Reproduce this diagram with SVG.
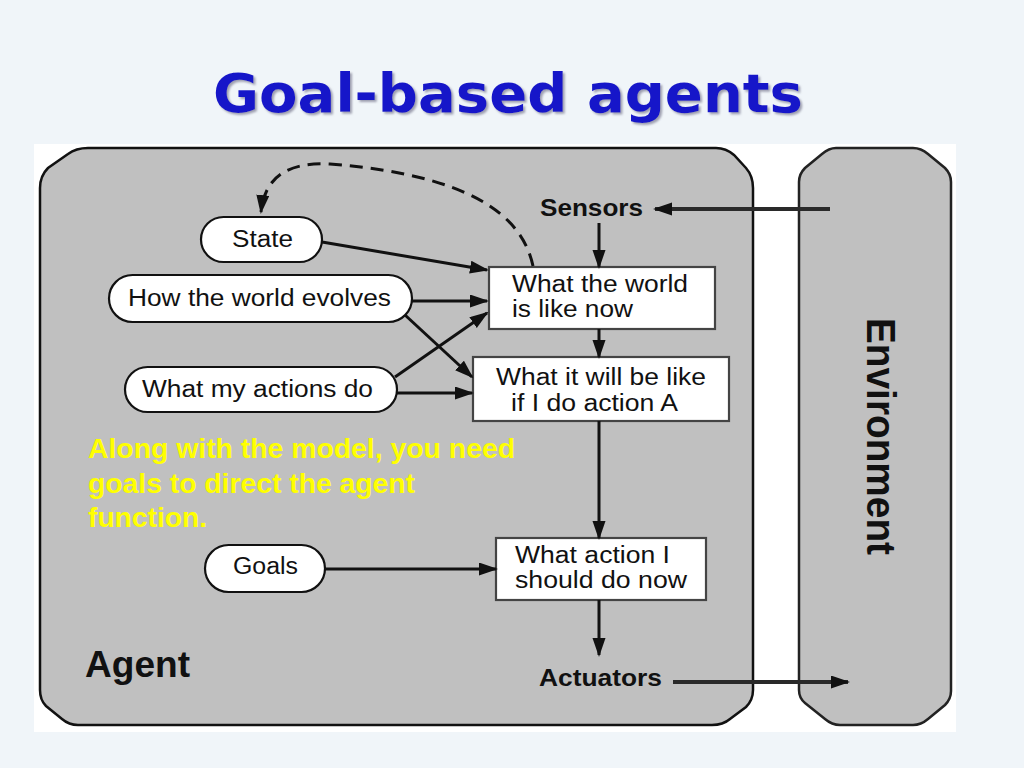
<svg xmlns="http://www.w3.org/2000/svg" width="1024" height="768" viewBox="0 0 1024 768">
<style>
.pill{fill:#fff;stroke:#111;stroke-width:2.2}
.box{fill:#fff;stroke:#444;stroke-width:2.2}
.t{font-family:"Liberation Sans",Arial,sans-serif;font-size:23px;fill:#111}
.b{font-family:"Liberation Sans",Arial,sans-serif;font-weight:bold;fill:#111}
.y{font-family:"Liberation Sans",Arial,sans-serif;font-weight:bold;font-size:28px;fill:#ffff00}
.ln{fill:none;stroke:#111;stroke-width:3;marker-end:url(#ah)}
.ln2{fill:none;stroke:#2a2a2a;stroke-width:4;marker-end:url(#ah)}
</style>
<defs>
<marker id="ah" markerUnits="userSpaceOnUse" markerWidth="20" markerHeight="14" refX="17" refY="6.5" orient="auto">
<path d="M0,0 L19,6.5 L0,13 z" fill="#111"/>
</marker>
<filter id="sh" x="-5%" y="-20%" width="110%" height="150%">
<feDropShadow dx="2" dy="2" stdDeviation="1" flood-color="#7a7a90" flood-opacity="0.7"/>
</filter>
</defs>
<rect width="1024" height="768" fill="#f0f5f9"/>
<text x="508" y="112" text-anchor="middle" font-family="'DejaVu Sans',Verdana,sans-serif" font-weight="bold" font-size="54" fill="#1717c9" textLength="590" lengthAdjust="spacingAndGlyphs" filter="url(#sh)">Goal-based agents</text>
<rect x="34" y="144" width="922" height="588" fill="#fff"/>

<g id="agent">
<path d="M88,148 L716,148 Q726,148 734,155 L746,168 Q753,176 753,188 L753,690 Q753,700 746,707 L730,719 Q723,725 712,725 L78,725 Q69,725 62,719 L46,706 Q40,700 40,690 L40,188 Q40,176 48,168 L68,154 Q76,148 88,148 Z" fill="#c0c0c0" stroke="#111" stroke-width="2.5"/>
<text class="b" x="85" y="677" font-size="37" textLength="105" lengthAdjust="spacingAndGlyphs">Agent</text>
</g>
<g id="environment">
<path d="M836,148 L913,148 Q921,148 928,154 L945,168 Q951,174 951,182 L951,691 Q951,699 945,705 L928,719 Q921,725 913,725 L840,725 Q832,725 825,719 L805,703 Q799,698 799,690 L799,182 Q799,174 805,168 L822,154 Q829,148 836,148 Z" fill="#c0c0c0" stroke="#222" stroke-width="2.5"/>
<text class="b" transform="translate(867,318) rotate(90)" x="0" y="0" font-size="40" textLength="237" lengthAdjust="spacingAndGlyphs">Environment</text>
</g>

<g id="sensors"><text class="b" x="540" y="216" font-size="24" textLength="103" lengthAdjust="spacingAndGlyphs">Sensors</text></g>
<g id="actuators"><text class="b" x="539" y="686" font-size="24" textLength="123" lengthAdjust="spacingAndGlyphs">Actuators</text></g>

<g id="world-now">
<rect class="box" x="489" y="267" width="226" height="62"/>
<text class="t" x="512" y="292" textLength="176" lengthAdjust="spacingAndGlyphs">What the world</text>
<text class="t" x="512" y="317" textLength="121" lengthAdjust="spacingAndGlyphs">is like now</text>
</g>
<g id="will-be">
<rect class="box" x="473" y="357" width="256" height="64"/>
<text class="t" x="496" y="385" textLength="210" lengthAdjust="spacingAndGlyphs">What it will be like</text>
<text class="t" x="511" y="411" textLength="167" lengthAdjust="spacingAndGlyphs">if I do action A</text>
</g>
<g id="action-now">
<rect class="box" x="496" y="538" width="210" height="62"/>
<text class="t" x="515" y="563" textLength="155" lengthAdjust="spacingAndGlyphs">What action I</text>
<text class="t" x="515" y="588" textLength="172" lengthAdjust="spacingAndGlyphs">should do now</text>
</g>

<g id="state">
<rect class="pill" x="201" y="217" width="121" height="45" rx="22.5"/>
<text class="t" x="232" y="247" font-size="24" textLength="61" lengthAdjust="spacingAndGlyphs">State</text>
</g>
<g id="evolves">
<rect class="pill" x="109" y="275" width="303" height="47" rx="23.5"/>
<text class="t" x="128" y="306" font-size="24" textLength="263" lengthAdjust="spacingAndGlyphs">How the world evolves</text>
</g>
<g id="actions-do">
<rect class="pill" x="125" y="367" width="272" height="45" rx="22.5"/>
<text class="t" x="142" y="397" font-size="24" textLength="231" lengthAdjust="spacingAndGlyphs">What my actions do</text>
</g>
<g id="goals">
<rect class="pill" x="205" y="545" width="120" height="47" rx="23.5"/>
<text class="t" x="233" y="574" font-size="24" textLength="65" lengthAdjust="spacingAndGlyphs">Goals</text>
</g>

<g id="note">
<text class="y" x="88" y="458" textLength="427" lengthAdjust="spacingAndGlyphs">Along with the model, you need</text>
<text class="y" x="88" y="493" textLength="327" lengthAdjust="spacingAndGlyphs">goals to direct the agent</text>
<text class="y" x="88" y="527" textLength="119" lengthAdjust="spacingAndGlyphs">function.</text>
</g>

<g id="connectors">
<path class="ln2" d="M830,209 L655,209"/>
<path class="ln" d="M599,223 L599,267"/>
<path class="ln" d="M599,329 L599,357"/>
<path class="ln" d="M599,421 L599,538"/>
<path class="ln" d="M599,600 L599,655"/>
<path class="ln2" d="M673,682 L848,682"/>
<path class="ln" d="M322,242 L487,270"/>
<path class="ln" d="M412,301 L487,301"/>
<path class="ln" d="M405,315 L472,377"/>
<path class="ln" d="M395,377 L487,313"/>
<path class="ln" d="M397,393 L472,393"/>
<path class="ln" d="M325,569 L496,569"/>
<path d="M533,266 C522,215 470,175 330,164 C290,162 265,175 261,212" fill="none" stroke="#111" stroke-width="3" stroke-dasharray="13,8" marker-end="url(#ah)"/>
</g>
</svg>
